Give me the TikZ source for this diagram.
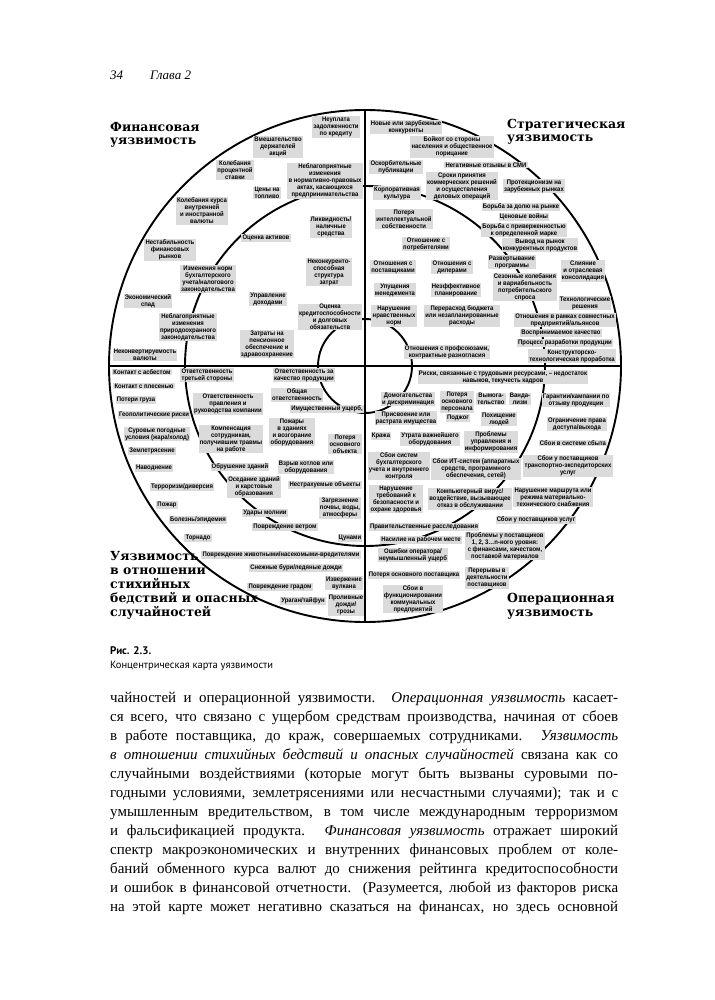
\documentclass[tikz,border=0pt]{standalone}
\usepackage{fontspec}
\setmainfont{Liberation Serif}
\newfontfamily\boxfont[FakeStretch=0.9]{Liberation Sans}
\newfontfamily\headfont{DejaVu Serif}
\newfontfamily\capfont{PT Sans}
\definecolor{boxgray}{gray}{0.86}
\begin{document}
\begin{tikzpicture}[x=1pt,y=-1pt,
  rb/.style={fill=boxgray, inner xsep=1.2pt, inner ysep=0.6pt, align=center,
    font=\boxfont\bfseries\fontsize{6.6}{7}\selectfont},
  ring/.style={line width=1.9pt},
  axisline/.style={line width=1.8pt},
  head/.style={anchor=base west, inner sep=0pt, font=\headfont\bfseries\fontsize{12.5}{14}\selectfont},
  body/.style={anchor=base west, inner sep=0pt, font=\fontsize{15}{19}\selectfont},
  runhead/.style={anchor=base west, inner sep=0pt, font=\itshape\fontsize{13}{13}\selectfont}]
\fill[white] (0,0) rectangle (714,1000);
\useasboundingbox (0,0) rectangle (714,1000);

% running head
\node[runhead] (pg) at (110,80) {34};
\node[runhead] (ch) at (150,80) {Глава 2};

% rings and axes
\coordinate (C) at (365,366);
\coordinate (T) at (365,110);
\coordinate (B) at (365,622);
\coordinate (L) at (109,366);
\coordinate (R) at (621,366);
\draw[ring] (C) circle[radius=256];
\draw[ring] (C) circle[radius=180];
\draw[ring] (C) circle[radius=47];
\draw[axisline] (T) -- (B);
\draw[axisline] (L) -- (R);

% headings
\node[head] (h1a) at (110,132) {Финансовая};
\node[head] (h1b) at (110,145) {уязвимость};
\node[head] (h2a) at (507,129) {Стратегическая};
\node[head] (h2b) at (507,142) {уязвимость};
\node[head] (h3a) at (110,560) {Уязвимость};
\node[head] (h3b) at (110,574) {в отношении};
\node[head] (h3c) at (110,588) {стихийных};
\node[head] (h3d) at (110,602) {бедствий и опасных};
\node[head] (h3e) at (110,616) {случайностей};
\node[head] (h4a) at (507,602) {Операционная};
\node[head] (h4b) at (507,616) {уязвимость};

% financial
\node[rb] (f1) at (336,127) {Неуплата\\задолженности\\по кредиту};
\node[rb] (f2) at (278,147) {Вмешательство\\держателей\\акций};
\node[rb] (f3) at (235,170) {Колебания\\процентной\\ставки};
\node[rb] (f4) at (325,181) {Неблагоприятные\\изменения\\в нормативно-правовых\\актах, касающихся\\предпринимательства};
\node[rb] (f5) at (267,193) {Цены на\\топливо};
\node[rb] (f6) at (202,211) {Колебания курса\\внутренней\\и иностранной\\валюты};
\node[rb] (f7) at (331,227) {Ликвидность/\\наличные\\средства};
\node[rb] (f8) at (266,238) {Оценка активов};
\node[rb] (f9) at (170,250) {Нестабильность\\финансовых\\рынков};
\node[rb] (f10) at (329,272) {Неконкуренто-\\способная\\структура\\затрат};
\node[rb] (f11) at (208,279) {Изменения норм\\бухгалтерского\\учета/налогового\\законодательства};
\node[rb] (f12) at (148,301) {Экономический\\спад};
\node[rb] (f13) at (268,299) {Управление\\доходами};
\node[rb] (f14) at (330,317) {Оценка\\кредитоспособности\\и долговых\\обязательств};
\node[rb] (f15) at (188,327) {Неблагоприятные\\изменения\\природоохранного\\законодательства};
\node[rb] (f16) at (267,344) {Затраты на\\пенсионное\\обеспечение и\\здравоохранение};
\node[rb] (f17) at (145,355) {Неконвертируемость\\валюты};

% strategic
\node[rb] (s1) at (406,127) {Новые или зарубежные\\конкуренты};
\node[rb] (s2) at (452,147) {Бойкот со стороны\\населения и общественное\\порицание};
\node[rb] (s3) at (396,167) {Оскорбительные\\публикации};
\node[rb] (s4) at (486,165) {Негативные отзывы в СМИ};
\node[rb] (s5) at (462,186) {Сроки принятия\\коммерческих решений\\и осуществления\\деловых операций};
\node[rb] (s6) at (534,186) {Протекционизм на\\зарубежных рынках};
\node[rb] (s7) at (397,193) {Корпоративная\\культура};
\node[rb] (s8) at (404,219) {Потеря\\интеллектуальной\\собственности};
\node[rb] (s9) at (521,207) {Борьба за долю на рынке};
\node[rb] (s10) at (524,217) {Ценовые войны};
\node[rb] (s11) at (524,230) {Борьба с приверженностью\\к определенной марке};
\node[rb] (s12) at (426,244) {Отношение с\\потребителями};
\node[rb] (s13) at (540,245) {Вывод на рынок\\конкурентных продуктов};
\node[rb] (s14) at (393,267) {Отношения с\\поставщиками};
\node[rb] (s15) at (452,267) {Отношения с\\дилерами};
\node[rb] (s16) at (512,262) {Развертывание\\программы};
\node[rb] (s17) at (583,271) {Слияние\\и отраслевая\\консолидация};
\node[rb] (s18) at (395,290) {Упущения\\менеджмента};
\node[rb] (s19) at (456,290) {Неэффективное\\планирование};
\node[rb] (s20) at (525,287) {Сезонные колебания\\и вариабельность\\потребительского\\спроса};
\node[rb] (s21) at (585,303) {Технологические\\решения};
\node[rb] (s22) at (394,316) {Нарушение\\нравственных\\норм};
\node[rb] (s23) at (462,316) {Перерасход бюджета\\или незапланированные\\расходы};
\node[rb] (s24) at (565,320) {Отношения в рамках совместных\\предприятий/альянсов};
\node[rb] (s25) at (561,333) {Воспринимаемое качество};
\node[rb] (s26) at (565,343) {Процесс разработки продукции};
\node[rb] (s27) at (447,352) {Отношения с профсоюзами,\\контрактные разногласия};
\node[rb] (s28) at (572,356) {Конструкторско-\\технологическая проработка};

% hazards
\node[rb] (a1) at (142,372) {Контакт с асбестом};
\node[rb] (a2) at (207,375) {Ответственность\\третьей стороны};
\node[rb] (a3) at (304,375) {Ответственность за\\качество продукции};
\node[rb] (a4) at (144,386) {Контакт с плесенью};
\node[rb] (a5) at (136,400) {Потери груза};
\node[rb] (a6) at (297,395) {Общая\\ответственность};
\node[rb] (a7) at (228,404) {Ответственность\\правления и\\руководства компании};
\node[rb] (a8) at (327,409) {Имущественный ущерб,};
\node[rb] (a9) at (154,415) {Геополитические риски};
\node[rb] (a10) at (157,434) {Суровые погодные\\условия (жара/холод)};
\node[rb] (a11) at (231,439) {Компенсация\\сотрудникам,\\получившим травмы\\на работе};
\node[rb] (a12) at (292,432) {Пожары\\в зданиях\\и возгорание\\оборудования};
\node[rb] (a13) at (345,444) {Потеря\\основного\\объекта};
\node[rb] (a14) at (152,451) {Землетрясение};
\node[rb] (a15) at (154,468) {Наводнение};
\node[rb] (a16) at (240,467) {Обрушение зданий};
\node[rb] (a17) at (306,467) {Взрыв котлов или\\оборудования};
\node[rb] (a18) at (254,487) {Оседание зданий\\и карстовые\\образования};
\node[rb] (a19) at (325,485) {Нестрахуемые объекты};
\node[rb] (a20) at (182,487) {Терроризм/диверсия};
\node[rb] (a21) at (167,505) {Пожар};
\node[rb] (a22) at (340,508) {Загрязнение\\почвы, воды,\\атмосферы};
\node[rb] (a23) at (265,513) {Удары молнии};
\node[rb] (a24) at (198,520) {Болезнь/эпидемия};
\node[rb] (a25) at (285,527) {Повреждение ветром};
\node[rb] (a26) at (198,538) {Торнадо};
\node[rb] (a27) at (350,538) {Цунами};
\node[rb] (a28) at (281,555) {Повреждение животными/насекомыми-вредителями};
\node[rb] (a29) at (296,568) {Снежные бури/ледяные дожди};
\node[rb] (a30) at (344,583) {Извержение\\вулкана};
\node[rb] (a31) at (280,587) {Повреждение градом};
\node[rb] (a32) at (303,601) {Ураган/тайфун};
\node[rb] (a33) at (346,605) {Проливные\\дожди/\\грозы};

% operational
\node[rb] (o1) at (503,377) {Риски, связанные с трудовыми ресурсами, – недостаток\\навыков, текучесть кадров};
\node[rb] (o2) at (408,399) {Домогательства\\и дискриминация};
\node[rb] (o3) at (457,402) {Потеря\\основного\\персонала};
\node[rb] (o4) at (491,399) {Вымога-\\тельство};
\node[rb] (o5) at (520,399) {Ванда-\\лизм};
\node[rb] (o6) at (576,400) {Гарантии/кампании по\\отзыву продукции};
\node[rb] (o7) at (406,418) {Присвоение или\\растрата имущества};
\node[rb] (o8) at (458,418) {Поджог};
\node[rb] (o9) at (499,419) {Похищение\\людей};
\node[rb] (o10) at (577,424) {Ограничение права\\доступа/выхода};
\node[rb] (o11) at (381,436) {Кража};
\node[rb] (o12) at (430,439) {Утрата важнейшего\\оборудования};
\node[rb] (o13) at (491,442) {Проблемы\\управления и\\информирования};
\node[rb] (o14) at (573,443) {Сбои в системе сбыта};
\node[rb] (o15) at (399,466) {Сбои систем\\бухгалтерского\\учета и внутреннего\\контроля};
\node[rb] (o16) at (476,469) {Сбои ИТ-систем (аппаратных\\средств, программного\\обеспечения, сетей)};
\node[rb] (o17) at (568,466) {Сбои у поставщиков\\транспортно-экспедиторских\\услуг};
\node[rb] (o18) at (396,499) {Нарушение\\требований к\\безопасности и\\охране здоровья};
\node[rb] (o19) at (470,499) {Компьютерный вирус/\\воздействие, вызывающее\\отказ в обслуживании};
\node[rb] (o20) at (553,497) {Нарушение маршрута или\\режима материально-\\технического снабжения};
\node[rb] (o21) at (536,520) {Сбои у поставщиков услуг};
\node[rb] (o22) at (424,527) {Правительственные расследования};
\node[rb] (o23) at (421,540) {Насилие на рабочем месте};
\node[rb] (o24) at (505,546) {Проблемы у поставщиков\\1, 2, 3…n-ного уровня:\\с финансами, качеством,\\поставкой материалов};
\node[rb] (o25) at (413,555) {Ошибки оператора/\\неумышленный ущерб};
\node[rb] (o26) at (414,575) {Потеря основного поставщика};
\node[rb] (o27) at (487,578) {Перерывы в\\деятельности\\поставщиков};
\node[rb] (o28) at (413,599) {Сбои в\\функционировании\\коммунальных\\предприятий};

% caption
\node[anchor=base west, inner sep=0pt, font=\capfont\bfseries\fontsize{11}{11}\selectfont] (cap1) at (110,654) {Рис. 2.3.};
\node[anchor=base west, inner sep=0pt, font=\capfont\fontsize{10.5}{11}\selectfont] (cap2) at (110,668) {Концентрическая карта уязвимости};

% body text
\node[body] (l1) at (110,702) {\makebox[508pt][s]{чайностей и операционной уязвимости. \textit{Операционная уязвимость} касает-}};
\node[body] (l2) at (110,721) {\makebox[508pt][s]{ся всего, что связано с ущербом средствам производства, начиная от сбоев}};
\node[body] (l3) at (110,740) {\makebox[508pt][s]{в работе поставщика, до краж, совершаемых сотрудниками. \textit{Уязвимость}}};
\node[body] (l4) at (110,759) {\makebox[508pt][s]{\textit{в отношении стихийных бедствий и опасных случайностей} связана как со}};
\node[body] (l5) at (110,778) {\makebox[508pt][s]{случайными воздействиями (которые могут быть вызваны суровыми по-}};
\node[body] (l6) at (110,797) {\makebox[508pt][s]{годными условиями, землетрясениями или несчастными случаями); так и с}};
\node[body] (l7) at (110,816) {\makebox[508pt][s]{умышленным вредительством, в том числе международным терроризмом}};
\node[body] (l8) at (110,835) {\makebox[508pt][s]{и фальсификацией продукта. \textit{Финансовая уязвимость} отражает широкий}};
\node[body] (l9) at (110,854) {\makebox[508pt][s]{спектр макроэкономических и внутренних финансовых проблем от коле-}};
\node[body] (l10) at (110,873) {\makebox[508pt][s]{баний обменного курса валют до снижения рейтинга кредитоспособности}};
\node[body] (l11) at (110,892) {\makebox[508pt][s]{и ошибок в финансовой отчетности. (Разумеется, любой из факторов риска}};
\node[body] (l12) at (110,911) {\makebox[508pt][s]{на этой карте может негативно сказаться на финансах, но здесь основной}};
\end{tikzpicture}
\end{document}
